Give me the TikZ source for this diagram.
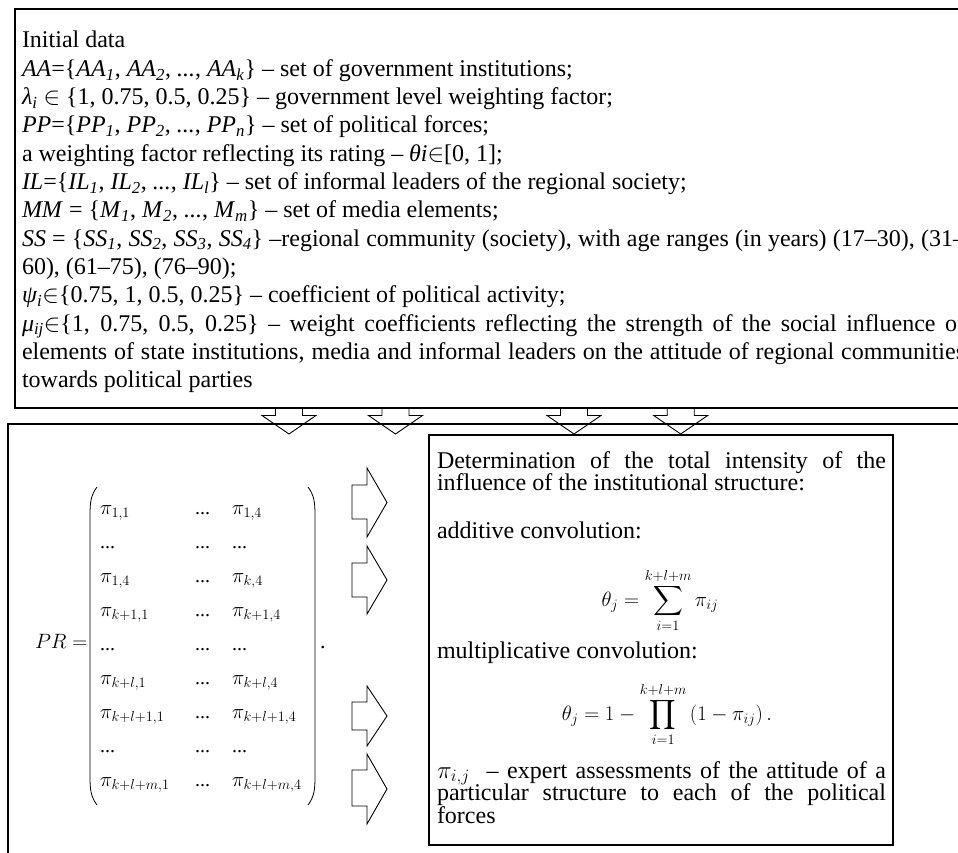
\documentclass[tikz,border=0pt]{standalone}
\usepackage{fontspec}
\setmainfont{Liberation Serif}
\usepackage{amsmath}
\newcommand\vv[1]{\textit{#1}}
\newcommand\sbs[1]{\textsubscript{\textit{#1}}}
\begin{document}
\begin{tikzpicture}[x=1pt,y=-1pt,
  boxline/.style={line width=1.1pt},
  arr/.style={line width=0.9pt, line join=miter},
  txt/.style={anchor=base west, inner sep=0pt, outer sep=0pt, font=\fontsize{24}{28}\selectfont},
  mtx/.style={anchor=base west, inner sep=0pt, outer sep=0pt, font=\fontsize{22}{26}\selectfont},
  dts/.style={anchor=base west, inner sep=0pt, outer sep=0pt, font=\fontsize{20}{24}\selectfont},
  frm/.style={anchor=base, inner sep=0pt, outer sep=0pt, font=\fontsize{22}{26}\selectfont},
  paren/.style={line width=0.8pt},
]
\useasboundingbox (0,0) rectangle (958,853);
\clip (0,0) rectangle (958,853);

% boxes
\draw[boxline] (15,9) rectangle (980,408);
\draw[boxline] (980,424) -- (8,424) -- (8,870);
\draw[boxline] (429,435) rectangle (893,845);

% top text
\node[txt] (t1) at (22,48) {Initial data};
\node[txt] (t2) at (22,76.3) {\vv{AA}=\{\vv{AA}\sbs{1}, \vv{AA}\sbs{2}, \vv{...}, \vv{AA}\sbs{k}\} – set of government institutions;};
\node[txt] (t3) at (22,104.6) {\vv{λ}\sbs{i} $\in$ \{1, 0.75, 0.5, 0.25\} – government level weighting factor;};
\node[txt] (t4) at (22,132.9) {\vv{PP}=\{\vv{PP}\sbs{1}, \vv{PP}\sbs{2}, \vv{...}, \vv{PP}\sbs{n}\} – set of political forces;};
\node[txt] (t5) at (22,161.2) {a weighting factor reflecting its rating – \vv{θi}$\in$[0, 1];};
\node[txt] (t6) at (22,189.5) {\vv{IL}=\{\vv{IL}\sbs{1}, \vv{IL}\sbs{2}, \vv{...}, \vv{IL}\sbs{l}\} – set of informal leaders of the regional society;};
\node[txt] (t7) at (22,217.8) {\vv{MM} = \{\vv{M}\sbs{1}, \vv{M}\sbs{2}, \vv{...}, \vv{M}\sbs{m}\} – set of media elements;};
\node[txt] (t8) at (22,246.1) {\makebox[943pt][s]{\vv{SS} = \{\vv{SS}\sbs{1}, \vv{SS}\sbs{2}, \vv{SS}\sbs{3}, \vv{SS}\sbs{4}\} –regional community (society), with age ranges (in years) (17–30), (31–}};
\node[txt] (t9) at (22,274.4) {60), (61–75), (76–90);};
\node[txt] (t10) at (22,302.7) {\vv{ψ}\sbs{i}$\in$\{0.75, 1, 0.5, 0.25\} – coefficient of political activity;};
\node[txt] (t11) at (22,331) {\makebox[943pt][s]{\vv{μ}\sbs{ij}$\in$\{1, 0.75, 0.5, 0.25\} – weight coefficients reflecting the strength of the social influence of}};
\node[txt] (t12) at (22,359.3) {\makebox[943pt][s]{elements of state institutions, media and informal leaders on the attitude of regional communities}};
\node[txt] (t13) at (22,387.6) {towards political parties};

% down arrows
\foreach \cx in {289,395.5,574,680.7}{
  \draw[arr] ({\cx-13.5},408) -- ({\cx-13.5},415.5) -- ({\cx-27},415.5) -- (\cx,434)
     -- ({\cx+27},415.5) -- ({\cx+13.5},415.5) -- ({\cx+13.5},408);
}

% right arrows
\foreach \ht/\st/\tp/\sb/\hb in {468/485/502.5/519/537, 546/563/580/597/614, 686/702/716/730/746, 754/770/789/806/824}{
  \draw[arr] (352,\st) -- (367,\st) -- (367,\ht) -- (387,\tp) -- (367,\hb) -- (367,\sb) -- (352,\sb) -- cycle;
}

% matrix
\node[mtx] (pr) at (35,648) {$PR=$};
\draw[paren] (97,487) .. controls (91,495) and (90,502) .. (90,515) -- (90,777) .. controls (90,790) and (91,797) .. (97,805);
\draw[paren] (308,487) .. controls (314,495) and (315,502) .. (315,515) -- (315,777) .. controls (315,790) and (314,797) .. (308,805);
\node[mtx] (dot) at (320,648) {.};

\node[mtx] (m11) at (100,514) {$\pi_{1,1}$};
\node[dts] (m12) at (195,514) {...};
\node[mtx] (m13) at (232,514) {$\pi_{1,4}$};
\node[dts] (m21) at (100,548) {...};
\node[dts] (m22) at (195,548) {...};
\node[dts] (m23) at (232,548) {...};
\node[mtx] (m31) at (100,582) {$\pi_{1,4}$};
\node[dts] (m32) at (195,582) {...};
\node[mtx] (m33) at (232,582) {$\pi_{k,4}$};
\node[mtx] (m41) at (100,616) {$\pi_{k+1,1}$};
\node[dts] (m42) at (195,616) {...};
\node[mtx] (m43) at (232,616) {$\pi_{k+1,4}$};
\node[dts] (m51) at (100,650) {...};
\node[dts] (m52) at (195,650) {...};
\node[dts] (m53) at (232,650) {...};
\node[mtx] (m61) at (100,684) {$\pi_{k+l,1}$};
\node[dts] (m62) at (195,684) {...};
\node[mtx] (m63) at (232,684) {$\pi_{k+l,4}$};
\node[mtx] (m71) at (100,718) {$\pi_{k+l+1,1}$};
\node[dts] (m72) at (195,718) {...};
\node[mtx] (m73) at (232,718) {$\pi_{k+l+1,4}$};
\node[dts] (m81) at (100,752) {...};
\node[dts] (m82) at (195,752) {...};
\node[dts] (m83) at (232,752) {...};
\node[mtx] (m91) at (100,786) {$\pi_{k+l+m,1}$};
\node[dts] (m92) at (195,786) {...};
\node[mtx] (m93) at (232,786) {$\pi_{k+l+m,4}$};

% right box text
\node[txt] (r1) at (437,468) {\makebox[449pt][s]{Determination of the total intensity of the}};
\node[txt] (r2) at (437,490) {influence of the institutional structure:};
\node[txt] (r3) at (437,538) {additive convolution:};
\node[frm] (f1) at (660,606) {$\displaystyle \theta_j = \sum_{i=1}^{k+l+m} \pi_{ij}$};
\node[txt] (r4) at (437,658) {multiplicative convolution:};
\node[frm] (f2) at (667,720) {$\displaystyle \theta_j = 1 - \prod_{i=1}^{k+l+m} \left(1 - \pi_{ij}\right).$};
\node[txt] (r5) at (437,778) {\makebox[449pt][s]{$\pi_{i,j}$\ \ – expert assessments of the attitude of a}};
\node[txt] (r6) at (437,800) {\makebox[449pt][s]{particular structure to each of the political}};
\node[txt] (r7) at (437,823) {forces};
\end{tikzpicture}
\end{document}
